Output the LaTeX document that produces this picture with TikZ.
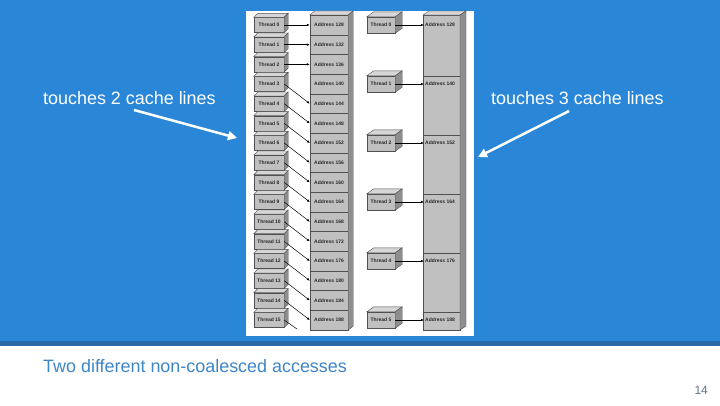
\documentclass[tikz,border=0pt]{standalone}
\usepackage{fontspec}
\setmainfont{Liberation Sans}
\usetikzlibrary{arrows.meta}
\definecolor{bgblue}{RGB}{42,135,216}
\definecolor{stripe}{RGB}{38,104,168}
\definecolor{captionblue}{RGB}{61,133,198}
\definecolor{pagenum}{RGB}{90,115,140}
\definecolor{facefront}{RGB}{192,192,192}
\definecolor{facetop}{RGB}{214,214,214}
\definecolor{faceside}{RGB}{142,142,142}
\definecolor{edgegray}{RGB}{80,80,80}
\definecolor{tinytext}{RGB}{40,40,40}
\newcommand\cubefaces[3]{%
  \filldraw[fill=facetop,draw=edgegray,line width=0.4bp] (#1.north west) -- ++(#2,-#3) -- ([shift={(#2,-#3)}]#1.north east) -- (#1.north east) -- cycle;
  \filldraw[fill=faceside,draw=edgegray,line width=0.4bp] (#1.north east) -- ++(#2,-#3) -- ([shift={(#2,-#3)}]#1.south east) -- (#1.south east) -- cycle;}
\begin{document}
\begin{tikzpicture}[x=1bp,y=-1bp,
  tiny/.style={font=\fontsize{5}{6}\selectfont\bfseries, text=tinytext},
  tbox/.style={tiny, draw=edgegray, fill=facefront, line width=0.4bp, inner sep=0pt},
  acell/.style={tiny, draw=edgegray, fill=facefront, line width=0.4bp, inner sep=0pt, minimum width=38bp, minimum height=19.67bp},
  conn/.style={draw=black, line width=0.5bp, -{Latex[length=3bp,width=2.5bp]}},
  callout/.style={draw=white, line width=2.5bp, -{Triangle[length=9bp,width=9bp]}},
  bigtext/.style={anchor=base west, inner sep=0pt, font=\fontsize{18}{21}\selectfont}]
\useasboundingbox (0,0) rectangle (720,405);
\fill[bgblue] (0,0) rectangle (720,341);
\fill[stripe] (0,341) rectangle (720,346);
\fill[white] (246,11) rectangle (474,336);

% left address column
\foreach \i [evaluate=\i as \yc using 25+19.67*\i, evaluate=\i as \ad using int(128+4*\i)] in {0,...,15}{
  \node[acell] (la\i) at (329,\yc) {Address \ad};
}
\filldraw[fill=facetop,draw=edgegray,line width=0.4bp] (la0.north west) -- ++(5,-4) -- ([shift={(5,-4)}]la0.north east) -- (la0.north east) -- cycle;
\filldraw[fill=faceside,draw=edgegray,line width=0.4bp] (la0.north east) -- ++(5,-4) -- ([shift={(5,-4)}]la15.south east) -- (la15.south east) -- cycle;

% left threads
\foreach \i [evaluate=\i as \yc using 25+19.67*\i] in {0,...,15}{
  \node[tbox, minimum width=30bp, minimum height=15bp] (lt\i) at (269,\yc) {Thread \i};
  \cubefaces{lt\i}{4}{4}
}
\foreach \i in {0,1,2}{ \draw[conn] (lt\i.east) -- (la\i.west); }
\foreach \i [evaluate=\i as \j using int(\i+1)] in {3,...,14}{ \draw[conn] (lt\i.east) -- (la\j.west); }
\coordinate (cut) at (297,329);
\draw[black, line width=0.5bp] (lt15.east) -- (cut);

% right address column
\filldraw[fill=facefront,draw=edgegray,line width=0.4bp] (423,15) rectangle (460,330);
\filldraw[fill=facetop,draw=edgegray,line width=0.4bp] (423,15) -- (429,11) -- (466,11) -- (460,15) -- cycle;
\filldraw[fill=faceside,draw=edgegray,line width=0.4bp] (460,15) -- (466,11) -- (466,326) -- (460,330) -- cycle;
\foreach \k in {1,...,5}{ \draw[edgegray,line width=0.4bp] (423,{17+59*\k}) -- (460,{17+59*\k}); }
\foreach \k [evaluate=\k as \yc using 25+59*\k, evaluate=\k as \ad using int(128+12*\k)] in {0,...,5}{
  \node[tiny, anchor=west, inner sep=1pt] (ra\k) at (424,\yc) {Address \ad};
  \node[tbox, minimum width=28bp, minimum height=16bp] (rt\k) at (381,\yc) {Thread \k};
  \cubefaces{rt\k}{7}{5}
  \draw[conn] (rt\k.east) -- (ra\k.west);
}

% callouts
\node[bigtext, text=white] (t2) at (43,104) {touches 2 cache lines};
\node[bigtext, text=white] (t3) at (491,104) {touches 3 cache lines};
\coordinate (a1s) at (134,110);
\coordinate (a1e) at (237,138);
\coordinate (a2s) at (569,111);
\coordinate (a2e) at (478,157);
\draw[callout] (a1s) -- (a1e);
\draw[callout] (a2s) -- (a2e);

% caption and page number
\node[bigtext, text=captionblue] (cap) at (43,372) {Two different non-coalesced accesses};
\node[anchor=base east, inner sep=0pt, text=pagenum, font=\fontsize{12}{14}\selectfont] (pg) at (708,394) {14};
\end{tikzpicture}
\end{document}
